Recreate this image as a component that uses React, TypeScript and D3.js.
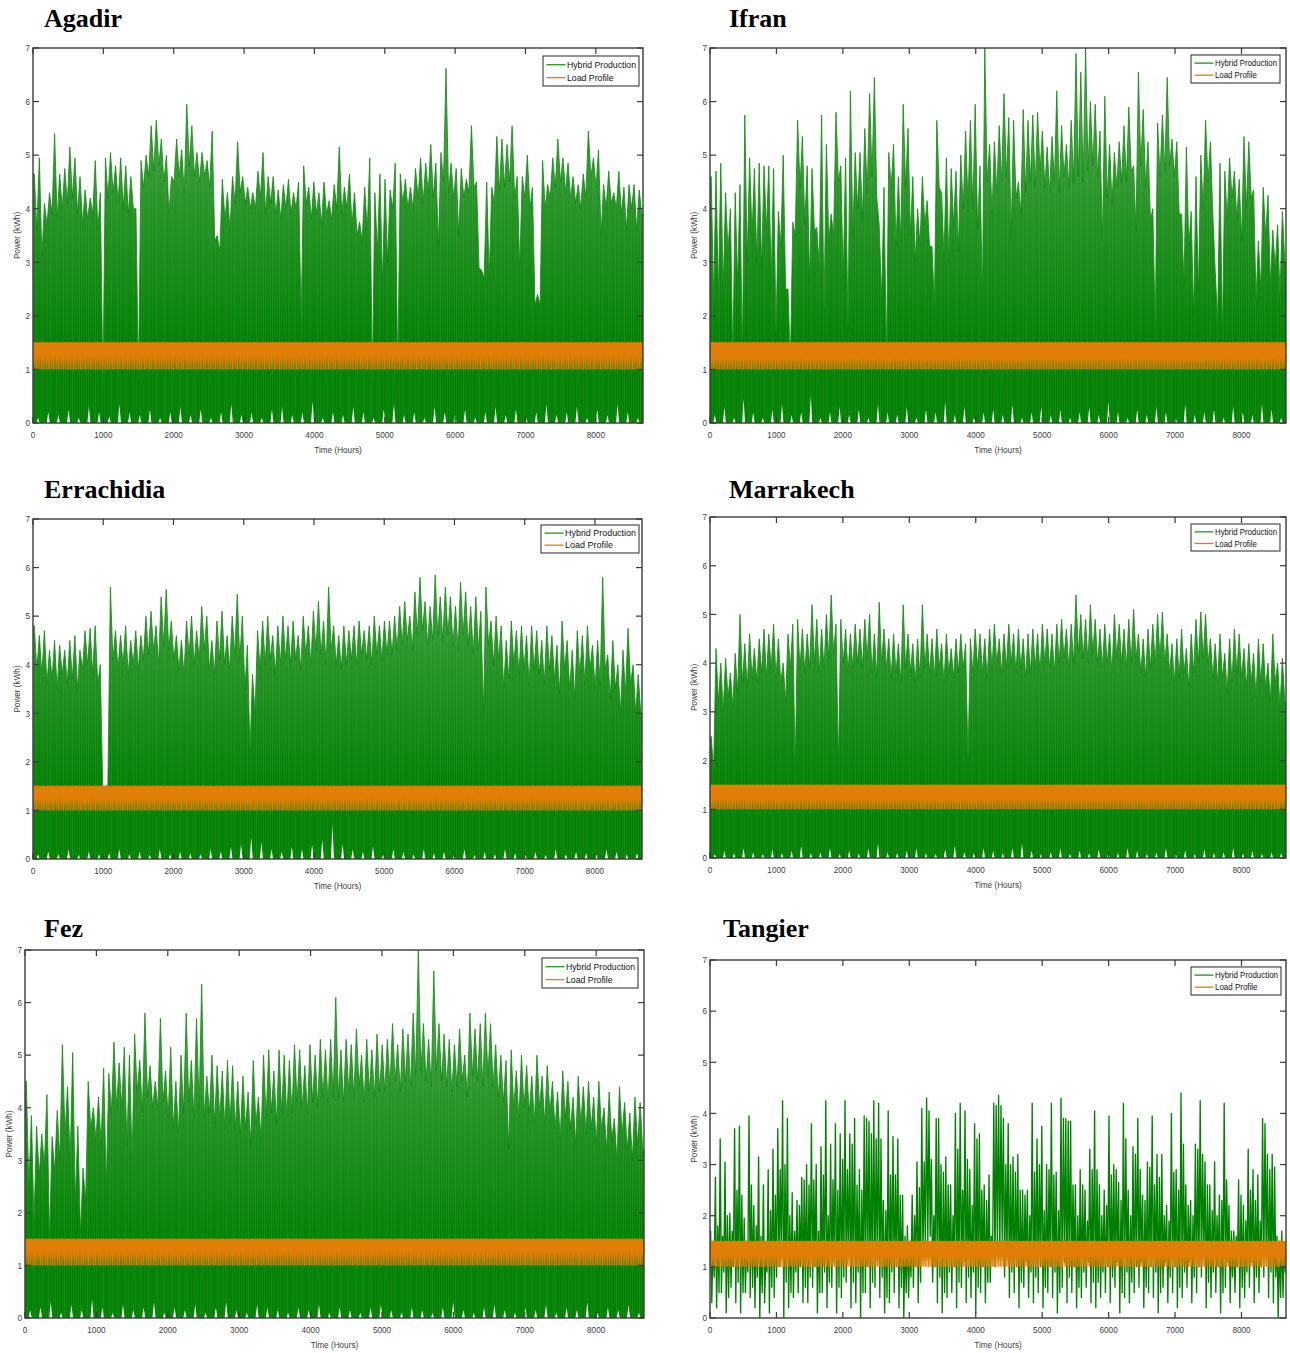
import React from "react";
import * as d3 from "d3";

// ---- shared axis settings ----
const HOURS_MAX = 8670;
const Y_MAX = 7;
const xTicks = [0, 1000, 2000, 3000, 4000, 5000, 6000, 7000, 8000];
const yTicks = [0, 1, 2, 3, 4, 5, 6, 7];

// Hourly load profile of one day (kWh), repeated over the year
const loadDay = [1.12, 1.1, 1.0, 1.1, 1.15, 1.2, 1.3, 1.4, 1.45, 1.5, 1.45, 1.4, 1.35, 1.3, 1.35, 1.4, 1.45, 1.5, 1.5, 1.45, 1.4, 1.3, 1.2, 1.15];

// ---- hybrid production: local maxima / minima per 72 h window, and night floors ----
const agadirPeaks = [
  4.65, 4.95, 4.1, 4.3, 5.4, 4.65, 4.75, 5.15, 4.95, 4.6,
  4.35, 4.2, 4.9, 4.3, 4.95, 5.05, 4.8, 4.95, 4.8, 4.6,
  4.0, 4.9, 5.0, 5.55, 5.65, 5.3, 5.0, 4.6, 5.3, 5.1,
  5.95, 5.55, 5.05, 5.05, 4.9, 5.45, 3.5, 4.55, 4.3, 4.6,
  5.25, 4.6, 4.4, 4.3, 4.7, 5.05, 4.6, 4.6, 4.35, 4.45,
  4.55, 4.3, 4.5, 4.8, 4.4, 4.5, 4.3, 4.5, 4.15, 4.45,
  5.15, 4.4, 4.65, 4.3, 3.75, 4.4, 4.95, 4.3, 4.65, 4.55,
  4.35, 4.85, 4.65, 4.55, 4.4, 4.75, 4.95, 4.85, 5.2, 4.85,
  5.05, 6.62, 4.85, 4.75, 4.75, 4.55, 5.55, 4.5, 2.85, 4.5,
  4.4, 5.35, 5.3, 5.2, 5.55, 4.6, 4.6, 5.0, 4.4, 2.4,
  4.9, 4.45, 4.95, 5.3, 4.95, 4.85, 4.6, 4.45, 4.65, 5.45,
  4.95, 5.1, 4.45, 4.7, 4.3, 4.7, 4.4, 4.45, 4.45, 4.35,
];
const agadirValleys = [
  3.6, 3.1, 3.7, 3.9, 3.8, 4.0, 4.1, 4.2, 3.9, 3.7,
  3.8, 3.9, 3.6, 0.7, 4.2, 4.3, 4.1, 4.0, 3.9, 4.0,
  0.8, 4.4, 4.6, 4.7, 4.8, 4.5, 3.9, 4.5, 4.6, 4.3,
  4.8, 4.6, 4.5, 4.6, 4.4, 3.4, 3.2, 3.8, 3.6, 4.1,
  4.3, 4.1, 4.0, 4.0, 4.2, 3.9, 4.1, 3.9, 3.8, 4.0,
  3.9, 4.0, 1.9, 4.1, 3.8, 3.9, 3.7, 3.9, 3.8, 4.0,
  3.9, 4.0, 3.7, 3.5, 3.4, 3.6, 0.8, 3.2, 2.6, 3.0,
  4.0, 0.9, 4.1, 4.0, 4.0, 4.2, 4.1, 4.3, 4.2, 3.3,
  4.5, 4.3, 4.2, 3.5, 4.2, 4.3, 4.4, 2.9, 2.7, 2.7,
  4.1, 4.3, 4.4, 4.5, 4.2, 2.9, 4.2, 4.0, 2.2, 2.2,
  4.0, 4.2, 4.4, 4.5, 4.3, 4.2, 4.1, 4.0, 4.2, 4.6,
  4.4, 3.5, 4.0, 4.1, 4.0, 3.9, 3.6, 4.0, 3.6, 3.9,
];
const agadirFloors = [
  0.1, 0.2, 0.15, 0.25, 0.1, 0.3, 0.2, 0.12, 0.35, 0.2, 0.15, 0.25, 0.1, 0.2, 0.3,
  0.15, 0.25, 0.1, 0.2, 0.35, 0.15, 0.2, 0.1, 0.25, 0.3, 0.15, 0.2, 0.4, 0.1, 0.2,
  0.15, 0.3, 0.2, 0.1, 0.25, 0.35, 0.15, 0.2, 0.1, 0.3, 0.2, 0.15, 0.25, 0.1, 0.2,
  0.3, 0.15, 0.25, 0.1, 0.2, 0.35, 0.15, 0.2, 0.3, 0.1, 0.25, 0.15, 0.35, 0.2, 0.1,
];

const ifranPeaks = [
  4.6, 4.7, 4.85, 4.3, 4.0, 4.3, 4.45, 5.75, 4.95, 4.75,
  4.85, 4.8, 4.8, 4.75, 3.95, 5.0, 2.5, 3.75, 5.65, 5.35,
  4.8, 4.75, 3.65, 5.75, 5.2, 3.9, 5.8, 4.8, 4.95, 6.2,
  5.05, 5.05, 5.5, 6.15, 6.45, 3.7, 4.4, 5.05, 5.2, 4.6,
  5.95, 5.5, 4.6, 4.0, 4.6, 4.15, 3.3, 5.65, 4.3, 4.95,
  4.75, 4.7, 5.0, 5.45, 5.65, 5.95, 4.8, 7.0, 5.2, 5.25,
  5.55, 6.15, 5.7, 5.65, 4.5, 5.85, 5.65, 5.75, 5.8, 5.45,
  5.15, 5.35, 6.2, 5.55, 5.2, 5.65, 6.9, 6.55, 7.0, 6.0,
  5.95, 5.45, 6.1, 5.2, 5.05, 5.25, 5.55, 5.9, 4.8, 6.55,
  5.85, 5.25, 4.0, 5.6, 5.75, 6.45, 5.3, 5.25, 3.9, 5.15,
  3.95, 4.6, 5.0, 5.65, 5.25, 2.85, 4.85, 4.7, 4.95, 4.7,
  4.55, 5.35, 5.25, 4.35, 3.4, 4.4, 4.25, 3.6, 3.7, 3.95,
];
const ifranValleys = [
  2.3, 2.4, 2.5, 3.2, 1.2, 2.6, 1.2, 3.0, 3.5, 3.0,
  2.9, 3.6, 2.7, 1.7, 3.3, 2.5, 1.1, 3.5, 4.4, 3.7,
  2.6, 3.6, 2.9, 2.1, 3.4, 3.5, 4.5, 2.7, 1.75, 3.5,
  4.0, 3.8, 4.3, 4.6, 4.2, 2.3, 1.2, 4.4, 3.3, 3.4,
  4.4, 3.5, 3.0, 3.3, 3.7, 3.3, 2.2, 4.4, 3.1, 3.0,
  3.7, 3.2, 4.0, 4.1, 4.0, 3.6, 2.3, 4.5, 3.9, 4.3,
  4.5, 4.6, 3.5, 4.2, 3.9, 4.3, 4.5, 4.4, 4.7, 4.4,
  4.3, 4.5, 4.3, 4.6, 4.4, 4.5, 4.6, 4.5, 4.7, 4.8,
  4.6, 3.4, 4.2, 4.1, 4.4, 4.5, 4.5, 4.7, 3.6, 4.8,
  4.4, 3.8, 1.8, 4.6, 4.7, 4.8, 4.6, 3.9, 2.6, 3.3,
  2.0, 2.4, 4.0, 4.5, 3.9, 1.9, 1.6, 3.8, 4.2, 3.8,
  3.4, 4.0, 4.2, 2.3, 2.5, 3.5, 2.6, 2.9, 2.4, 3.0,
];
const ifranFloors = [
  0.15, 0.3, 0.1, 0.45, 0.2, 0.1, 0.25, 0.35, 0.15, 0.2, 0.5, 0.1, 0.2, 0.3, 0.15,
  0.25, 0.1, 0.35, 0.2, 0.15, 0.3, 0.1, 0.25, 0.2, 0.4, 0.15, 0.3, 0.1, 0.2, 0.25,
  0.15, 0.35, 0.1, 0.2, 0.3, 0.15, 0.25, 0.1, 0.2, 0.3, 0.15, 0.4, 0.2, 0.1, 0.25,
  0.15, 0.3, 0.2, 0.1, 0.35, 0.15, 0.2, 0.25, 0.1, 0.3, 0.2, 0.15, 0.35, 0.25, 0.1,
];

const errachidiaPeaks = [
  4.8, 4.6, 4.7, 4.3, 4.5, 4.4, 4.3, 4.5, 4.6, 4.3,
  4.7, 4.75, 4.8, 4.0, 1.5, 5.6, 4.7, 4.6, 4.8, 4.5,
  4.7, 4.6, 5.0, 5.1, 4.8, 5.4, 5.55, 4.9, 4.6, 4.5,
  4.9, 5.0, 4.7, 5.2, 5.0, 4.5, 4.9, 5.1, 4.6, 5.0,
  5.45, 5.0, 4.4, 3.8, 4.7, 4.9, 5.0, 4.6, 4.8, 5.0,
  4.8, 4.9, 4.6, 5.0, 4.8, 5.1, 5.3, 4.9, 5.6, 4.8,
  4.6, 4.8, 4.7, 4.8, 4.9, 4.7, 4.8, 5.0, 4.8, 4.9,
  4.9, 5.0, 5.2, 5.3, 5.0, 5.5, 5.8, 5.3, 5.2, 5.85,
  5.4, 5.6, 5.4, 5.2, 5.7, 5.5, 5.2, 5.4, 5.1, 5.6,
  4.9, 5.0, 4.8, 4.5, 4.9, 4.7, 4.8, 4.6, 4.8, 4.7,
  4.5, 4.8, 4.6, 4.4, 4.9, 4.5, 4.3, 4.7, 4.6, 4.8,
  4.4, 4.5, 5.8, 4.2, 4.5, 4.0, 4.3, 4.75, 4.0, 3.8,
];
const errachidiaValleys = [
  3.9, 3.8, 3.6, 3.7, 3.5, 3.8, 3.6, 3.7, 3.5, 3.9,
  4.0, 3.8, 3.6, 1.4, 1.5, 4.1, 3.9, 4.0, 3.8, 4.0,
  3.9, 4.1, 4.2, 4.3, 4.0, 4.4, 4.3, 4.1, 3.9, 3.8,
  4.2, 4.0, 4.1, 4.3, 3.9, 3.8, 4.1, 4.0, 3.9, 4.2,
  4.1, 3.5, 2.2, 3.0, 3.9, 4.0, 4.1, 3.8, 4.0, 4.1,
  4.0, 4.1, 3.9, 4.2, 4.0, 4.3, 4.2, 4.0, 4.3, 4.0,
  3.9, 4.0, 4.1, 4.0, 4.2, 4.1, 4.0, 4.2, 4.1, 4.2,
  4.2, 4.3, 4.4, 4.5, 4.3, 4.6, 4.7, 4.4, 4.5, 4.6,
  4.5, 4.6, 4.4, 4.3, 4.6, 4.4, 4.2, 4.3, 3.0, 4.4,
  4.0, 4.1, 3.5, 3.7, 4.0, 3.8, 3.9, 3.6, 3.9, 3.8,
  3.6, 3.9, 3.7, 3.4, 3.9, 3.5, 3.3, 3.8, 3.6, 3.9,
  3.5, 3.6, 3.9, 3.3, 3.5, 3.0, 3.4, 3.6, 3.0, 3.0,
];
const errachidiaFloors = [
  0.1, 0.15, 0.1, 0.2, 0.08, 0.15, 0.1, 0.12, 0.2, 0.1, 0.15, 0.08, 0.2, 0.1, 0.15,
  0.12, 0.1, 0.2, 0.15, 0.25, 0.3, 0.45, 0.35, 0.2, 0.15, 0.25, 0.2, 0.3, 0.4, 0.7,
  0.3, 0.2, 0.15, 0.25, 0.1, 0.2, 0.15, 0.1, 0.2, 0.12, 0.15, 0.1, 0.2, 0.08, 0.15,
  0.1, 0.2, 0.12, 0.1, 0.15, 0.08, 0.2, 0.1, 0.15, 0.12, 0.1, 0.2, 0.15, 0.1, 0.12,
];

const marrakechPeaks = [
  2.5, 4.3, 4.0, 4.1, 3.8, 4.2, 5.0, 4.4, 4.6, 4.3,
  4.5, 4.7, 4.6, 4.8, 4.5, 4.0, 4.6, 4.8, 4.9, 4.7,
  4.6, 5.2, 4.9, 4.7, 5.0, 5.4, 4.8, 4.9, 4.7, 4.6,
  4.8, 4.7, 4.9, 5.0, 4.6, 5.25, 4.7, 4.5, 4.6, 4.4,
  5.2, 4.6, 4.4, 4.5, 5.2, 4.6, 4.5, 4.7, 4.4, 4.6,
  4.3, 4.5, 4.6, 4.4, 4.5, 4.7, 4.6, 4.5, 4.7, 4.8,
  4.5, 4.6, 4.8, 4.6, 4.7, 4.5, 4.6, 4.7, 4.6, 4.8,
  4.7, 4.6, 4.8, 4.9, 4.7, 4.8, 5.4, 5.0, 4.9, 5.2,
  4.9, 4.7, 4.8, 4.6, 5.0, 4.8, 4.7, 4.9, 5.1, 4.6,
  4.5, 4.7, 4.8, 5.0, 5.05, 4.6, 4.4, 4.5, 4.7, 4.3,
  4.6, 4.9, 5.05, 5.0, 4.5, 4.4, 4.6, 4.2, 4.5, 4.7,
  4.6, 4.3, 4.4, 4.2, 4.5, 4.4, 4.0, 4.6, 4.0, 4.1,
];
const marrakechValleys = [
  1.8, 3.2, 3.0, 3.3, 3.1, 3.4, 3.6, 3.5, 3.7, 3.6,
  3.8, 3.7, 3.9, 3.7, 3.6, 3.2, 3.9, 1.8, 3.9, 3.8,
  3.9, 4.0, 3.8, 3.9, 4.1, 4.2, 1.9, 4.0, 3.8, 3.9,
  4.0, 3.9, 4.1, 3.8, 3.7, 4.0, 3.9, 3.7, 3.8, 3.6,
  3.9, 3.8, 3.6, 3.7, 3.9, 3.8, 3.7, 3.9, 3.6, 3.8,
  3.7, 3.8, 3.9, 2.0, 3.8, 3.9, 3.8, 3.7, 3.9, 4.0,
  3.8, 3.9, 4.0, 3.8, 3.9, 3.7, 3.8, 3.9, 3.8, 4.0,
  3.9, 3.8, 4.0, 4.1, 3.9, 4.0, 4.2, 4.1, 4.0, 4.2,
  4.0, 3.9, 4.0, 3.8, 4.1, 4.0, 3.9, 4.0, 4.1, 3.8,
  3.7, 3.9, 4.0, 4.1, 4.0, 3.8, 3.6, 3.7, 3.8, 3.5,
  3.8, 4.0, 4.1, 4.0, 3.7, 3.6, 3.7, 3.4, 3.6, 3.8,
  3.7, 3.5, 3.6, 3.3, 3.6, 3.5, 3.2, 3.6, 3.1, 3.2,
];
const marrakechFloors = [
  0.08, 0.15, 0.1, 0.2, 0.12, 0.08, 0.18, 0.1, 0.15, 0.25, 0.1, 0.12, 0.2, 0.08, 0.15,
  0.1, 0.2, 0.3, 0.12, 0.1, 0.15, 0.2, 0.1, 0.08, 0.18, 0.25, 0.12, 0.1, 0.2, 0.15,
  0.1, 0.2, 0.3, 0.15, 0.1, 0.12, 0.2, 0.08, 0.15, 0.1, 0.18, 0.12, 0.1, 0.2, 0.15,
  0.08, 0.12, 0.2, 0.1, 0.15, 0.08, 0.18, 0.1, 0.12, 0.2, 0.1, 0.15, 0.08, 0.12, 0.1,
];

const fezPeaks = [
  4.5, 3.85, 3.65, 3.5, 4.25, 3.45, 3.95, 5.2, 4.4, 5.05,
  3.65, 2.85, 4.5, 4.0, 4.2, 4.75, 4.65, 5.25, 4.85, 5.15,
  5.0, 5.4, 4.9, 5.8, 4.8, 4.5, 5.7, 4.7, 5.15, 4.5,
  5.0, 5.8, 4.9, 5.7, 6.35, 4.6, 5.0, 4.8, 4.7, 4.9,
  4.8, 4.5, 4.6, 4.3, 4.9, 4.2, 5.0, 5.1, 4.7, 5.1,
  5.0, 4.9, 5.2, 5.1, 4.8, 5.2, 5.0, 5.3, 5.1, 5.3,
  6.1, 5.1, 5.3, 5.2, 5.5, 5.0, 5.3, 5.1, 5.4, 5.2,
  5.3, 5.6, 5.2, 5.5, 5.4, 5.8, 7.0, 5.6, 5.3, 6.6,
  5.6, 5.4, 5.3, 5.2, 5.5, 5.0, 5.8, 5.5, 5.6, 5.8,
  5.6, 5.2, 5.0, 4.9, 5.1, 4.7, 5.0, 4.8, 4.6, 5.0,
  4.6, 4.8, 4.5, 4.3, 4.7, 4.5, 4.2, 4.6, 4.4, 4.5,
  4.2, 4.5, 4.0, 4.3, 3.8, 4.4, 4.1, 3.9, 4.2, 4.1,
];
const fezValleys = [
  2.5, 1.8, 2.7, 2.9, 1.5, 2.8, 3.0, 3.5, 3.0, 2.2,
  1.6, 2.2, 3.6, 3.4, 3.3, 2.5, 3.9, 4.0, 4.0, 3.3,
  3.0, 4.3, 3.9, 4.2, 4.0, 4.0, 4.1, 3.8, 3.6, 3.5,
  3.9, 4.1, 3.8, 4.0, 3.8, 3.9, 3.7, 3.8, 3.6, 3.7,
  3.6, 3.5, 3.6, 3.3, 3.7, 3.4, 3.8, 3.9, 3.7, 3.9,
  3.8, 3.9, 4.1, 4.0, 3.9, 4.1, 4.0, 4.2, 4.1, 4.2,
  4.2, 4.1, 4.3, 4.2, 4.4, 4.1, 4.3, 4.2, 4.3, 4.3,
  4.4, 4.5, 4.3, 4.5, 4.4, 4.6, 4.7, 4.5, 4.4, 4.7,
  4.5, 4.4, 4.3, 4.4, 4.5, 4.2, 4.6, 4.5, 4.4, 4.6,
  4.4, 4.2, 4.1, 3.2, 4.0, 3.8, 4.0, 3.9, 3.7, 4.0,
  3.7, 3.9, 3.6, 3.4, 3.8, 3.6, 3.3, 3.7, 3.5, 3.6,
  3.3, 3.6, 3.2, 3.4, 3.0, 3.5, 3.2, 3.0, 3.3, 3.2,
];
const fezFloors = [
  0.15, 0.2, 0.3, 0.1, 0.25, 0.15, 0.35, 0.2, 0.1, 0.25, 0.15, 0.2, 0.3, 0.1, 0.2,
  0.15, 0.25, 0.1, 0.2, 0.3, 0.15, 0.1, 0.25, 0.2, 0.15, 0.1, 0.2, 0.15, 0.25, 0.1,
  0.2, 0.15, 0.1, 0.2, 0.25, 0.15, 0.1, 0.2, 0.15, 0.1, 0.2, 0.3, 0.15, 0.1, 0.2,
  0.25, 0.15, 0.1, 0.2, 0.15, 0.25, 0.1, 0.2, 0.15, 0.3, 0.1, 0.2, 0.15, 0.25, 0.1,
];

// Tangier: main and secondary excursions within each 72 h window
const tangierPeaks = [
  1.7, 2.75, 3.5, 3.05, 2.05, 3.7, 3.75, 1.95, 3.95, 2.2,
  3.15, 2.6, 2.9, 3.3, 3.7, 4.25, 3.9, 2.45, 2.3, 2.75,
  3.0, 3.8, 3.0, 3.35, 4.25, 3.4, 3.8, 3.6, 4.25, 3.6,
  3.9, 2.9, 3.95, 3.85, 4.25, 4.2, 2.3, 4.05, 3.55, 3.5,
  2.4, 1.8, 2.4, 3.05, 4.1, 4.3, 3.1, 3.9, 3.0, 3.15,
  2.6, 4.0, 4.2, 4.05, 2.9, 3.8, 3.6, 2.6, 2.8, 4.2,
  4.35, 3.9, 3.8, 3.15, 3.2, 2.5, 2.5, 4.2, 3.5, 3.75,
  3.0, 4.2, 2.85, 4.3, 3.9, 3.85, 2.6, 2.9, 2.5, 3.3,
  4.05, 2.6, 2.5, 3.95, 3.0, 2.65, 4.2, 2.5, 3.35, 3.9,
  2.4, 3.05, 3.95, 3.2, 3.2, 2.2, 4.0, 2.9, 4.4, 2.6,
  2.3, 3.4, 4.25, 3.05, 2.6, 3.05, 2.4, 4.2, 2.2, 1.7,
  2.7, 2.2, 3.3, 2.9, 2.8, 3.9, 3.2, 3.2, 1.6, 1.7,
];
const tangierValleys = [
  0.3, 0.2, 0.5, 0.1, 0.6, 0.3, 0.1, 0.5, 0.4, 0.2,
  0.0, 0.3, 0.1, 0.4, 1.0, 0.0, 0.2, 0.4, 0.5, 0.3,
  0.3, 0.6, 0.1, 0.5, 0.2, 0.6, 0.1, 0.4, 0.7, 0.2,
  0.3, 0.0, 0.5, 0.2, 0.6, 0.4, 0.1, 0.3, 0.5, 0.2,
  0.0, 0.4, 0.6, 0.3, 1.2, 1.5, 0.7, 0.3, 0.1, 0.4,
  0.5, 0.2, 0.6, 0.3, 0.4, 0.1, 0.5, 0.3, 0.7, 1.0,
  1.2, 0.8, 0.4, 0.5, 0.2, 0.6, 0.4, 0.3, 0.5, 0.2,
  0.5, 0.4, 0.1, 0.6, 0.3, 0.5, 0.2, 0.4, 0.6, 0.3,
  0.2, 0.4, 0.5, 0.3, 0.6, 0.1, 0.4, 0.3, 0.5, 0.6,
  0.2, 0.5, 0.4, 0.1, 0.6, 0.3, 0.5, 0.2, 0.4, 0.6,
  0.3, 0.5, 0.8, 0.2, 0.4, 0.5, 0.1, 0.6, 0.3, 0.5,
  0.2, 0.4, 0.6, 0.3, 0.5, 0.8, 0.4, 0.3, 0.0, 0.4,
];
const tangierSubPeaks = [
  1.5, 1.8, 1.6, 2.0, 1.7, 2.5, 2.4, 1.5, 2.6, 1.8,
  1.6, 1.2, 2.1, 2.4, 2.9, 3.0, 2.0, 1.7, 2.2, 2.7,
  2.6, 2.7, 1.7, 2.8, 2.0, 2.7, 2.5, 3.1, 2.9, 3.4,
  2.6, 2.5, 3.9, 3.6, 3.5, 3.5, 2.1, 2.8, 2.8, 2.4,
  1.6, 1.5, 2.0, 2.55, 3.05, 4.05, 2.0, 3.9, 2.85, 2.6,
  2.0, 3.3, 2.5, 3.1, 2.2, 3.5, 2.5, 2.3, 1.6, 4.15,
  4.15, 3.0, 3.0, 2.85, 2.5, 2.4, 2.0, 2.85, 3.0, 2.1,
  2.9, 2.8, 2.1, 3.9, 3.85, 2.6, 2.0, 2.6, 1.9, 2.9,
  2.9, 2.0, 2.2, 2.8, 2.9, 2.3, 3.5, 2.0, 3.2, 2.9,
  2.3, 2.95, 2.6, 2.75, 2.0, 1.9, 2.85, 2.5, 3.4, 2.2,
  2.0, 3.3, 3.2, 2.6, 2.1, 2.0, 2.3, 2.7, 1.7, 1.6,
  2.4, 1.9, 2.5, 2.3, 1.9, 3.8, 2.9, 2.95, 1.5, 1.4,
];
const tangierSubValleys = [
  0.8, 0.5, 0.9, 0.4, 1.0, 0.7, 0.5, 0.9, 0.6, 0.8,
  0.5, 0.9, 0.6, 0.8, 1.2, 0.7, 0.5, 0.9, 1.0, 0.6,
  0.8, 1.0, 0.5, 0.9, 0.7, 1.1, 0.6, 0.8, 1.2, 0.7,
  0.9, 0.5, 1.0, 0.7, 1.1, 0.8, 0.4, 0.9, 1.0, 0.6,
  0.5, 0.8, 1.0, 0.7, 1.4, 1.6, 1.0, 0.8, 0.5, 0.9,
  1.0, 0.7, 1.1, 0.8, 0.9, 0.6, 1.0, 0.7, 1.2, 1.4,
  1.5, 1.2, 0.9, 1.0, 0.7, 1.1, 0.9, 0.8, 1.0, 0.6,
  1.0, 0.9, 0.5, 1.1, 0.8, 1.0, 0.6, 0.9, 1.1, 0.7,
  0.7, 0.9, 1.0, 0.8, 1.1, 0.5, 0.9, 0.7, 1.0, 1.1,
  0.6, 1.0, 0.9, 0.5, 1.1, 0.8, 1.0, 0.6, 0.9, 1.1,
  0.8, 1.0, 1.2, 0.7, 0.9, 1.0, 0.5, 1.1, 0.8, 1.0,
  0.6, 0.9, 1.1, 0.8, 1.0, 1.2, 0.9, 0.8, 0.4, 0.9,
];

const legendLabels = ["Hybrid Production", "Load Profile"];

const GREEN = "#008000";
const ORANGE = "#e07e06";
const AXIS = "#3a3a3a";
const TEXT = "#404040";
const SANS = "'Liberation Sans', Arial, Helvetica, sans-serif";
const SERIF = "'Liberation Serif', 'Times New Roman', Times, serif";

type Panel = {
  id: string;
  title: string;
  // each window lists its excursions in time order: [max, min, (max2, min2)]
  series: number[][];
  floors: number[] | null;
  filled: boolean;
  l: number; r: number; t: number; b: number;
  titleX: number; titleY: number;
  legend: { x: number; y: number; w: number; h: number };
};

const panels: Panel[] = [
  { id: "agadir", title: "Agadir", series: [agadirPeaks, agadirValleys], floors: agadirFloors, filled: true,
    l: 33, r: 643, t: 48, b: 423, titleX: 44, titleY: 27, legend: { x: 543, y: 56, w: 96, h: 30 } },
  { id: "ifran", title: "Ifran", series: [ifranPeaks, ifranValleys], floors: ifranFloors, filled: true,
    l: 710, r: 1286, t: 48, b: 423, titleX: 729, titleY: 27, legend: { x: 1191, y: 55, w: 89, h: 28 } },
  { id: "errachidia", title: "Errachidia", series: [errachidiaPeaks, errachidiaValleys], floors: errachidiaFloors, filled: true,
    l: 33, r: 642, t: 519, b: 859, titleX: 44, titleY: 498, legend: { x: 541, y: 525, w: 98, h: 28 } },
  { id: "marrakech", title: "Marrakech", series: [marrakechPeaks, marrakechValleys], floors: marrakechFloors, filled: true,
    l: 710, r: 1286, t: 517, b: 858, titleX: 729, titleY: 498, legend: { x: 1191, y: 524, w: 89, h: 27 } },
  { id: "fez", title: "Fez", series: [fezPeaks, fezValleys], floors: fezFloors, filled: true,
    l: 25, r: 644, t: 950, b: 1318, titleX: 44, titleY: 937, legend: { x: 542, y: 958, w: 96, h: 30 } },
  { id: "tangier", title: "Tangier", series: [tangierPeaks, tangierValleys, tangierSubPeaks, tangierSubValleys], floors: null, filled: false,
    l: 710, r: 1286, t: 960, b: 1318, titleX: 723, titleY: 937, legend: { x: 1191, y: 967, w: 90, h: 28 } },
];

const NARROW = 0.88;

function NarrowText(props: { x: number; y: number; anchor?: string; size?: number; rotate?: number; children: React.ReactNode }) {
  const { x, y, anchor = "start", size = 9.3, rotate = 0, children } = props;
  return (
    <text
      transform={`translate(${x},${y}) rotate(${rotate}) scale(${NARROW},1)`}
      textAnchor={anchor}
      fontFamily={SANS}
      fontSize={size}
      fill={TEXT}
    >
      {children}
    </text>
  );
}

function PanelChart({ p }: { p: Panel }) {
  const x = d3.scaleLinear().domain([0, HOURS_MAX]).range([p.l, p.r]);
  const y = d3.scaleLinear().domain([0, Y_MAX]).range([p.b, p.t]);

  // Production: the excursions of each window, spread evenly across it
  const n = p.series[0].length;
  const k = p.series.length;
  const step = HOURS_MAX / n;
  const pts: [number, number][] = [[0, p.series[0][0]]];
  for (let i = 0; i < n; i++) {
    for (let j = 0; j < k; j++) {
      pts.push([(i + (j + 0.5) / k) * step, p.series[j][i]]);
    }
  }
  pts.push([HOURS_MAX, p.series[k - 1][n - 1]]);

  const line = d3.line<[number, number]>().x((d) => x(d[0])).y((d) => y(d[1]));
  const area = d3.area<[number, number]>().x((d) => x(d[0])).y0(y(0)).y1((d) => y(d[1]));

  // Night floors: narrow white notches rising from the baseline
  let floorPath: string | null = null;
  if (p.floors) {
    const fs = HOURS_MAX / p.floors.length;
    const half = 22;
    const fpts: [number, number][] = [[0, 0]];
    p.floors.forEach((v, j) => {
      const c = (j + 0.5) * fs;
      fpts.push([c - half, 0]);
      fpts.push([c, v]);
      fpts.push([c + half, 0]);
    });
    fpts.push([HOURS_MAX, 0]);
    floorPath = d3.area<[number, number]>().x((d) => x(d[0])).y0(y(-0.1)).y1((d) => y(d[1]))(fpts);
  }

  // Load: hourly values over the year
  const loadPts: [number, number][] = d3.range(0, HOURS_MAX + 1).map((h) => [h, loadDay[h % 24]]);

  const clipId = `clip-${p.id}`;
  const gradId = `grad-${p.id}`;
  const patId = `pat-${p.id}`;
  const lg = p.legend;
  const row1 = lg.y + lg.h * 0.29;
  const row2 = lg.y + lg.h * 0.72;
  const textW = lg.w - 27;

  return (
    <g>
      <defs>
        <clipPath id={clipId}>
          <rect x={p.l} y={p.t} width={p.r - p.l} height={p.b - p.t} />
        </clipPath>
        <linearGradient id={gradId} gradientUnits="userSpaceOnUse" x1={0} x2={0} y1={y(6)} y2={y(1.6)}>
          <stop offset="0" stopColor="#45a345" />
          <stop offset="0.5" stopColor="#1f8f1f" />
          <stop offset="1" stopColor="#008000" />
        </linearGradient>
        <pattern id={patId} patternUnits="userSpaceOnUse" width={2.3} height={10} x={p.l}>
          <rect x={0} y={0} width={0.6} height={10} fill="#ffffff" fillOpacity={0.13} />
        </pattern>
      </defs>

      <text x={p.titleX} y={p.titleY} fontFamily={SERIF} fontWeight="bold" fontSize={26} fill="#000">
        {p.title}
      </text>

      <g clipPath={`url(#${clipId})`}>
        {p.filled && <path d={area(pts) ?? ""} fill={`url(#${gradId})`} />}
        {p.filled && <path d={area(pts) ?? ""} fill={`url(#${patId})`} />}
        <path
          d={line(pts) ?? ""}
          fill="none"
          stroke={p.filled ? "#0e880e" : GREEN}
          strokeWidth={p.filled ? 0.8 : 1.35}
          strokeLinejoin="round"
        />
        {floorPath && <path d={floorPath} fill="#fff" />}
        <path d={line(loadPts) ?? ""} fill="none" stroke={ORANGE} strokeWidth={1.1} />
      </g>

      {/* frame */}
      <rect x={p.l} y={p.t} width={p.r - p.l} height={p.b - p.t} fill="none" stroke={AXIS} strokeWidth={1.4} />

      {/* x ticks */}
      {xTicks.map((v) => (
        <g key={`x${v}`}>
          <line x1={x(v)} x2={x(v)} y1={p.b} y2={p.b - 6} stroke={AXIS} strokeWidth={1.2} />
          <line x1={x(v)} x2={x(v)} y1={p.t} y2={p.t + 6} stroke={AXIS} strokeWidth={1.2} />
          <NarrowText x={x(v)} y={p.b + 14.5} anchor="middle">{String(v)}</NarrowText>
        </g>
      ))}

      {/* y ticks */}
      {yTicks.map((v) => (
        <g key={`y${v}`}>
          <line x1={p.l} x2={p.l + 6} y1={y(v)} y2={y(v)} stroke={AXIS} strokeWidth={1.2} />
          <line x1={p.r} x2={p.r - 6} y1={y(v)} y2={y(v)} stroke={AXIS} strokeWidth={1.2} />
          <NarrowText x={p.l - 3} y={y(v) + 3.3} anchor="end">{String(v)}</NarrowText>
        </g>
      ))}

      <NarrowText x={(p.l + p.r) / 2} y={p.b + 30} anchor="middle">Time (Hours)</NarrowText>
      <NarrowText x={p.l - 13} y={(p.t + p.b) / 2} anchor="middle" rotate={-90}>Power (kWh)</NarrowText>

      {/* legend */}
      <rect x={lg.x} y={lg.y} width={lg.w} height={lg.h} fill="#fff" stroke={AXIS} strokeWidth={1.1} />
      <line x1={lg.x + 3.5} x2={lg.x + 22.5} y1={row1} y2={row1} stroke="#1a9a1a" strokeWidth={1.3} />
      <line x1={lg.x + 3.5} x2={lg.x + 22.5} y1={row2} y2={row2} stroke={ORANGE} strokeWidth={1.3} />
      <text x={lg.x + 24} y={row1 + 3.2} fontFamily={SANS} fontSize={9.3} fill="#111"
        textLength={textW} lengthAdjust="spacingAndGlyphs">
        {legendLabels[0]}
      </text>
      <text x={lg.x + 24} y={row2 + 3.2} fontFamily={SANS} fontSize={9.3} fill="#111"
        textLength={textW * 0.675} lengthAdjust="spacingAndGlyphs">
        {legendLabels[1]}
      </text>
    </g>
  );
}

export default function App() {
  return (
    <div style={{ position: "absolute", left: 0, top: 0 }}>
      <svg width={1290} height={1353} viewBox="0 0 1290 1353" style={{ display: "block", background: "#fff" }}>
        <rect x={0} y={0} width={1290} height={1353} fill="#fff" />
        {panels.map((p) => (
          <PanelChart key={p.id} p={p} />
        ))}
      </svg>
    </div>
  );
}
